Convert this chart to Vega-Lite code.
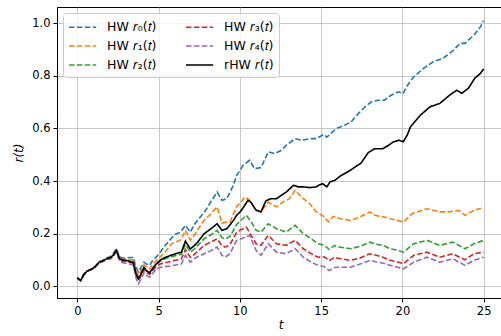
{
"$schema": "https://vega.github.io/schema/vega-lite/v6.json",
"width": 447, "height": 291,
"autosize": "none",
"padding": {"left": 57, "top": 7, "right": 0, "bottom": 38},
"background": "white",
"config": {"font": "DejaVu Sans", "view": {"stroke": "black", "strokeWidth": 1}},
"data": {"values": [
{"s":"r0","t":0,"r":0.032},{"s":"r0","t":0.2,"r":0.022},{"s":"r0","t":0.4,"r":0.045},{"s":"r0","t":0.6,"r":0.058},{"s":"r0","t":0.9,"r":0.067},{"s":"r0","t":1.1,"r":0.076},{"s":"r0","t":1.35,"r":0.094},{"s":"r0","t":1.6,"r":0.1},{"s":"r0","t":1.8,"r":0.108},{"s":"r0","t":2.05,"r":0.114},{"s":"r0","t":2.2,"r":0.123},{"s":"r0","t":2.4,"r":0.144},{"s":"r0","t":2.6,"r":0.112},{"s":"r0","t":2.8,"r":0.108},{"s":"r0","t":3.0,"r":0.108},{"s":"r0","t":3.2,"r":0.11},{"s":"r0","t":3.45,"r":0.11},{"s":"r0","t":3.6,"r":0.075},{"s":"r0","t":3.75,"r":0.055},{"s":"r0","t":3.9,"r":0.07},{"s":"r0","t":4.1,"r":0.092},{"s":"r0","t":4.25,"r":0.085},{"s":"r0","t":4.45,"r":0.08},{"s":"r0","t":4.65,"r":0.1},{"s":"r0","t":4.85,"r":0.111},{"s":"r0","t":5.1,"r":0.13},{"s":"r0","t":5.4,"r":0.155},{"s":"r0","t":5.75,"r":0.18},{"s":"r0","t":5.95,"r":0.194},{"s":"r0","t":6.1,"r":0.2},{"s":"r0","t":6.35,"r":0.206},{"s":"r0","t":6.65,"r":0.232},{"s":"r0","t":6.95,"r":0.206},{"s":"r0","t":7.2,"r":0.235},{"s":"r0","t":7.4,"r":0.251},{"s":"r0","t":7.9,"r":0.289},{"s":"r0","t":8.2,"r":0.32},{"s":"r0","t":8.6,"r":0.358},{"s":"r0","t":8.9,"r":0.327},{"s":"r0","t":9.2,"r":0.333},{"s":"r0","t":9.6,"r":0.384},{"s":"r0","t":9.8,"r":0.422},{"s":"r0","t":9.95,"r":0.435},{"s":"r0","t":10.2,"r":0.46},{"s":"r0","t":10.6,"r":0.479},{"s":"r0","t":10.9,"r":0.447},{"s":"r0","t":11.3,"r":0.451},{"s":"r0","t":11.75,"r":0.511},{"s":"r0","t":12.15,"r":0.504},{"s":"r0","t":12.55,"r":0.517},{"s":"r0","t":12.85,"r":0.536},{"s":"r0","t":13.4,"r":0.561},{"s":"r0","t":13.8,"r":0.555},{"s":"r0","t":14.3,"r":0.561},{"s":"r0","t":14.7,"r":0.561},{"s":"r0","t":15.15,"r":0.577},{"s":"r0","t":15.35,"r":0.567},{"s":"r0","t":15.95,"r":0.6},{"s":"r0","t":16.45,"r":0.612},{"s":"r0","t":16.85,"r":0.625},{"s":"r0","t":17.3,"r":0.657},{"s":"r0","t":17.7,"r":0.682},{"s":"r0","t":18.1,"r":0.701},{"s":"r0","t":18.5,"r":0.707},{"s":"r0","t":18.9,"r":0.707},{"s":"r0","t":19.3,"r":0.726},{"s":"r0","t":19.75,"r":0.739},{"s":"r0","t":20.05,"r":0.732},{"s":"r0","t":20.25,"r":0.758},{"s":"r0","t":20.7,"r":0.796},{"s":"r0","t":21.3,"r":0.828},{"s":"r0","t":21.9,"r":0.853},{"s":"r0","t":22.5,"r":0.866},{"s":"r0","t":23.15,"r":0.897},{"s":"r0","t":23.55,"r":0.923},{"s":"r0","t":23.85,"r":0.923},{"s":"r0","t":24.4,"r":0.954},{"s":"r0","t":24.8,"r":0.986},{"s":"r0","t":25,"r":1.009},

{"s":"r1","t":0,"r":0.032},{"s":"r1","t":0.2,"r":0.022},{"s":"r1","t":0.4,"r":0.045},{"s":"r1","t":0.6,"r":0.058},{"s":"r1","t":0.9,"r":0.066},{"s":"r1","t":1.1,"r":0.075},{"s":"r1","t":1.35,"r":0.093},{"s":"r1","t":1.6,"r":0.099},{"s":"r1","t":1.8,"r":0.106},{"s":"r1","t":2.05,"r":0.112},{"s":"r1","t":2.2,"r":0.12},{"s":"r1","t":2.4,"r":0.14},{"s":"r1","t":2.6,"r":0.108},{"s":"r1","t":2.8,"r":0.104},{"s":"r1","t":3.0,"r":0.103},{"s":"r1","t":3.2,"r":0.102},{"s":"r1","t":3.45,"r":0.1},{"s":"r1","t":3.6,"r":0.063},{"s":"r1","t":3.75,"r":0.042},{"s":"r1","t":3.9,"r":0.058},{"s":"r1","t":4.1,"r":0.082},{"s":"r1","t":4.25,"r":0.073},{"s":"r1","t":4.45,"r":0.066},{"s":"r1","t":4.65,"r":0.085},{"s":"r1","t":4.85,"r":0.098},{"s":"r1","t":5.1,"r":0.112},{"s":"r1","t":5.4,"r":0.13},{"s":"r1","t":5.75,"r":0.16},{"s":"r1","t":6.1,"r":0.17},{"s":"r1","t":6.4,"r":0.178},{"s":"r1","t":6.65,"r":0.213},{"s":"r1","t":6.95,"r":0.175},{"s":"r1","t":7.2,"r":0.195},{"s":"r1","t":7.4,"r":0.215},{"s":"r1","t":7.8,"r":0.251},{"s":"r1","t":8.2,"r":0.275},{"s":"r1","t":8.6,"r":0.302},{"s":"r1","t":8.9,"r":0.24},{"s":"r1","t":9.2,"r":0.245},{"s":"r1","t":9.4,"r":0.245},{"s":"r1","t":9.8,"r":0.304},{"s":"r1","t":10.05,"r":0.318},{"s":"r1","t":10.3,"r":0.34},{"s":"r1","t":10.6,"r":0.327},{"s":"r1","t":10.9,"r":0.295},{"s":"r1","t":11.3,"r":0.283},{"s":"r1","t":11.75,"r":0.32},{"s":"r1","t":12.25,"r":0.302},{"s":"r1","t":12.65,"r":0.32},{"s":"r1","t":13.05,"r":0.333},{"s":"r1","t":13.4,"r":0.365},{"s":"r1","t":13.9,"r":0.333},{"s":"r1","t":14.3,"r":0.314},{"s":"r1","t":14.7,"r":0.283},{"s":"r1","t":15.15,"r":0.266},{"s":"r1","t":15.45,"r":0.245},{"s":"r1","t":15.75,"r":0.266},{"s":"r1","t":16.2,"r":0.257},{"s":"r1","t":16.8,"r":0.251},{"s":"r1","t":17.4,"r":0.264},{"s":"r1","t":18.0,"r":0.283},{"s":"r1","t":18.3,"r":0.27},{"s":"r1","t":18.85,"r":0.264},{"s":"r1","t":19.25,"r":0.257},{"s":"r1","t":19.65,"r":0.251},{"s":"r1","t":20.07,"r":0.245},{"s":"r1","t":20.6,"r":0.276},{"s":"r1","t":21.5,"r":0.295},{"s":"r1","t":22.3,"r":0.283},{"s":"r1","t":22.9,"r":0.283},{"s":"r1","t":23.45,"r":0.289},{"s":"r1","t":23.85,"r":0.27},{"s":"r1","t":24.4,"r":0.289},{"s":"r1","t":25,"r":0.299},

{"s":"r2","t":0,"r":0.032},{"s":"r2","t":0.2,"r":0.022},{"s":"r2","t":0.4,"r":0.045},{"s":"r2","t":0.6,"r":0.058},{"s":"r2","t":0.9,"r":0.066},{"s":"r2","t":1.1,"r":0.075},{"s":"r2","t":1.35,"r":0.092},{"s":"r2","t":1.6,"r":0.098},{"s":"r2","t":1.8,"r":0.105},{"s":"r2","t":2.05,"r":0.11},{"s":"r2","t":2.2,"r":0.118},{"s":"r2","t":2.4,"r":0.137},{"s":"r2","t":2.6,"r":0.104},{"s":"r2","t":2.8,"r":0.099},{"s":"r2","t":3.0,"r":0.098},{"s":"r2","t":3.2,"r":0.096},{"s":"r2","t":3.45,"r":0.093},{"s":"r2","t":3.6,"r":0.05},{"s":"r2","t":3.75,"r":0.028},{"s":"r2","t":3.9,"r":0.043},{"s":"r2","t":4.1,"r":0.07},{"s":"r2","t":4.25,"r":0.058},{"s":"r2","t":4.45,"r":0.05},{"s":"r2","t":4.65,"r":0.067},{"s":"r2","t":4.85,"r":0.082},{"s":"r2","t":5.1,"r":0.095},{"s":"r2","t":5.4,"r":0.105},{"s":"r2","t":5.75,"r":0.112},{"s":"r2","t":6.1,"r":0.118},{"s":"r2","t":6.4,"r":0.122},{"s":"r2","t":6.65,"r":0.16},{"s":"r2","t":6.95,"r":0.13},{"s":"r2","t":7.2,"r":0.142},{"s":"r2","t":7.4,"r":0.155},{"s":"r2","t":7.8,"r":0.181},{"s":"r2","t":8.2,"r":0.195},{"s":"r2","t":8.6,"r":0.213},{"s":"r2","t":8.9,"r":0.185},{"s":"r2","t":9.1,"r":0.18},{"s":"r2","t":9.4,"r":0.19},{"s":"r2","t":9.8,"r":0.235},{"s":"r2","t":10.05,"r":0.25},{"s":"r2","t":10.4,"r":0.27},{"s":"r2","t":10.7,"r":0.245},{"s":"r2","t":11.0,"r":0.213},{"s":"r2","t":11.3,"r":0.206},{"s":"r2","t":11.75,"r":0.238},{"s":"r2","t":12.25,"r":0.219},{"s":"r2","t":12.85,"r":0.206},{"s":"r2","t":13.4,"r":0.232},{"s":"r2","t":13.9,"r":0.2},{"s":"r2","t":14.4,"r":0.181},{"s":"r2","t":14.8,"r":0.162},{"s":"r2","t":15.2,"r":0.156},{"s":"r2","t":15.5,"r":0.14},{"s":"r2","t":15.8,"r":0.155},{"s":"r2","t":16.2,"r":0.149},{"s":"r2","t":16.8,"r":0.143},{"s":"r2","t":17.4,"r":0.152},{"s":"r2","t":18.0,"r":0.168},{"s":"r2","t":18.4,"r":0.16},{"s":"r2","t":18.85,"r":0.155},{"s":"r2","t":19.25,"r":0.143},{"s":"r2","t":19.65,"r":0.138},{"s":"r2","t":20.07,"r":0.13},{"s":"r2","t":20.7,"r":0.162},{"s":"r2","t":21.5,"r":0.175},{"s":"r2","t":22.3,"r":0.156},{"s":"r2","t":23.1,"r":0.168},{"s":"r2","t":23.85,"r":0.143},{"s":"r2","t":24.4,"r":0.162},{"s":"r2","t":25,"r":0.175},

{"s":"r3","t":0,"r":0.032},{"s":"r3","t":0.2,"r":0.022},{"s":"r3","t":0.4,"r":0.045},{"s":"r3","t":0.6,"r":0.058},{"s":"r3","t":0.9,"r":0.066},{"s":"r3","t":1.1,"r":0.074},{"s":"r3","t":1.35,"r":0.091},{"s":"r3","t":1.6,"r":0.097},{"s":"r3","t":1.8,"r":0.103},{"s":"r3","t":2.05,"r":0.108},{"s":"r3","t":2.2,"r":0.115},{"s":"r3","t":2.4,"r":0.134},{"s":"r3","t":2.6,"r":0.1},{"s":"r3","t":2.8,"r":0.095},{"s":"r3","t":3.0,"r":0.094},{"s":"r3","t":3.2,"r":0.092},{"s":"r3","t":3.45,"r":0.088},{"s":"r3","t":3.6,"r":0.045},{"s":"r3","t":3.75,"r":0.022},{"s":"r3","t":3.9,"r":0.037},{"s":"r3","t":4.1,"r":0.063},{"s":"r3","t":4.25,"r":0.052},{"s":"r3","t":4.45,"r":0.045},{"s":"r3","t":4.65,"r":0.06},{"s":"r3","t":4.85,"r":0.075},{"s":"r3","t":5.1,"r":0.085},{"s":"r3","t":5.4,"r":0.09},{"s":"r3","t":5.75,"r":0.095},{"s":"r3","t":6.1,"r":0.1},{"s":"r3","t":6.4,"r":0.104},{"s":"r3","t":6.65,"r":0.14},{"s":"r3","t":6.95,"r":0.11},{"s":"r3","t":7.2,"r":0.122},{"s":"r3","t":7.4,"r":0.133},{"s":"r3","t":7.8,"r":0.156},{"s":"r3","t":8.2,"r":0.168},{"s":"r3","t":8.6,"r":0.181},{"s":"r3","t":8.9,"r":0.155},{"s":"r3","t":9.1,"r":0.149},{"s":"r3","t":9.4,"r":0.16},{"s":"r3","t":9.8,"r":0.205},{"s":"r3","t":10.05,"r":0.215},{"s":"r3","t":10.4,"r":0.225},{"s":"r3","t":10.7,"r":0.194},{"s":"r3","t":11.0,"r":0.162},{"s":"r3","t":11.3,"r":0.156},{"s":"r3","t":11.75,"r":0.194},{"s":"r3","t":12.25,"r":0.162},{"s":"r3","t":12.85,"r":0.156},{"s":"r3","t":13.4,"r":0.175},{"s":"r3","t":13.9,"r":0.143},{"s":"r3","t":14.4,"r":0.124},{"s":"r3","t":14.8,"r":0.111},{"s":"r3","t":15.2,"r":0.112},{"s":"r3","t":15.5,"r":0.098},{"s":"r3","t":15.8,"r":0.11},{"s":"r3","t":16.2,"r":0.105},{"s":"r3","t":16.8,"r":0.099},{"s":"r3","t":17.4,"r":0.108},{"s":"r3","t":18.0,"r":0.124},{"s":"r3","t":18.4,"r":0.118},{"s":"r3","t":18.85,"r":0.11},{"s":"r3","t":19.25,"r":0.099},{"s":"r3","t":19.65,"r":0.094},{"s":"r3","t":20.07,"r":0.086},{"s":"r3","t":20.7,"r":0.118},{"s":"r3","t":21.5,"r":0.13},{"s":"r3","t":22.3,"r":0.111},{"s":"r3","t":23.1,"r":0.124},{"s":"r3","t":23.85,"r":0.101},{"s":"r3","t":24.4,"r":0.124},{"s":"r3","t":25,"r":0.13},

{"s":"r4","t":0,"r":0.032},{"s":"r4","t":0.2,"r":0.022},{"s":"r4","t":0.4,"r":0.045},{"s":"r4","t":0.6,"r":0.058},{"s":"r4","t":0.9,"r":0.065},{"s":"r4","t":1.1,"r":0.073},{"s":"r4","t":1.35,"r":0.089},{"s":"r4","t":1.6,"r":0.095},{"s":"r4","t":1.8,"r":0.1},{"s":"r4","t":2.05,"r":0.104},{"s":"r4","t":2.2,"r":0.111},{"s":"r4","t":2.4,"r":0.13},{"s":"r4","t":2.6,"r":0.096},{"s":"r4","t":2.8,"r":0.09},{"s":"r4","t":3.0,"r":0.088},{"s":"r4","t":3.2,"r":0.085},{"s":"r4","t":3.45,"r":0.08},{"s":"r4","t":3.6,"r":0.035},{"s":"r4","t":3.75,"r":0.01},{"s":"r4","t":3.9,"r":0.025},{"s":"r4","t":4.1,"r":0.052},{"s":"r4","t":4.25,"r":0.042},{"s":"r4","t":4.45,"r":0.035},{"s":"r4","t":4.65,"r":0.05},{"s":"r4","t":4.85,"r":0.065},{"s":"r4","t":5.1,"r":0.072},{"s":"r4","t":5.4,"r":0.075},{"s":"r4","t":5.75,"r":0.078},{"s":"r4","t":6.1,"r":0.082},{"s":"r4","t":6.4,"r":0.085},{"s":"r4","t":6.65,"r":0.118},{"s":"r4","t":6.95,"r":0.092},{"s":"r4","t":7.2,"r":0.105},{"s":"r4","t":7.4,"r":0.113},{"s":"r4","t":7.8,"r":0.124},{"s":"r4","t":8.2,"r":0.135},{"s":"r4","t":8.6,"r":0.149},{"s":"r4","t":8.9,"r":0.118},{"s":"r4","t":9.1,"r":0.111},{"s":"r4","t":9.4,"r":0.125},{"s":"r4","t":9.8,"r":0.175},{"s":"r4","t":10.05,"r":0.18},{"s":"r4","t":10.6,"r":0.194},{"s":"r4","t":10.8,"r":0.165},{"s":"r4","t":11.0,"r":0.137},{"s":"r4","t":11.3,"r":0.118},{"s":"r4","t":11.75,"r":0.162},{"s":"r4","t":12.25,"r":0.13},{"s":"r4","t":12.85,"r":0.124},{"s":"r4","t":13.4,"r":0.143},{"s":"r4","t":13.9,"r":0.111},{"s":"r4","t":14.4,"r":0.092},{"s":"r4","t":14.8,"r":0.08},{"s":"r4","t":15.2,"r":0.075},{"s":"r4","t":15.5,"r":0.06},{"s":"r4","t":15.8,"r":0.072},{"s":"r4","t":16.2,"r":0.073},{"s":"r4","t":16.8,"r":0.073},{"s":"r4","t":17.4,"r":0.085},{"s":"r4","t":18.0,"r":0.099},{"s":"r4","t":18.4,"r":0.093},{"s":"r4","t":18.85,"r":0.088},{"s":"r4","t":19.25,"r":0.08},{"s":"r4","t":19.65,"r":0.074},{"s":"r4","t":20.07,"r":0.067},{"s":"r4","t":20.7,"r":0.092},{"s":"r4","t":21.5,"r":0.111},{"s":"r4","t":22.3,"r":0.092},{"s":"r4","t":23.1,"r":0.105},{"s":"r4","t":23.85,"r":0.08},{"s":"r4","t":24.4,"r":0.099},{"s":"r4","t":25,"r":0.111},

{"s":"rHW","t":0,"r":0.032},{"s":"rHW","t":0.2,"r":0.022},{"s":"rHW","t":0.4,"r":0.045},{"s":"rHW","t":0.6,"r":0.058},{"s":"rHW","t":0.9,"r":0.066},{"s":"rHW","t":1.1,"r":0.075},{"s":"rHW","t":1.35,"r":0.092},{"s":"rHW","t":1.6,"r":0.098},{"s":"rHW","t":1.8,"r":0.105},{"s":"rHW","t":2.05,"r":0.11},{"s":"rHW","t":2.2,"r":0.118},{"s":"rHW","t":2.4,"r":0.137},{"s":"rHW","t":2.6,"r":0.105},{"s":"rHW","t":2.8,"r":0.1},{"s":"rHW","t":3.0,"r":0.099},{"s":"rHW","t":3.2,"r":0.095},{"s":"rHW","t":3.45,"r":0.09},{"s":"rHW","t":3.6,"r":0.05},{"s":"rHW","t":3.75,"r":0.03},{"s":"rHW","t":3.9,"r":0.045},{"s":"rHW","t":4.1,"r":0.072},{"s":"rHW","t":4.25,"r":0.06},{"s":"rHW","t":4.45,"r":0.052},{"s":"rHW","t":4.65,"r":0.07},{"s":"rHW","t":4.85,"r":0.085},{"s":"rHW","t":5.1,"r":0.1},{"s":"rHW","t":5.4,"r":0.11},{"s":"rHW","t":5.75,"r":0.118},{"s":"rHW","t":6.1,"r":0.125},{"s":"rHW","t":6.4,"r":0.13},{"s":"rHW","t":6.65,"r":0.172},{"s":"rHW","t":6.95,"r":0.142},{"s":"rHW","t":7.2,"r":0.155},{"s":"rHW","t":7.4,"r":0.168},{"s":"rHW","t":7.8,"r":0.2},{"s":"rHW","t":8.2,"r":0.218},{"s":"rHW","t":8.6,"r":0.238},{"s":"rHW","t":8.9,"r":0.213},{"s":"rHW","t":9.2,"r":0.219},{"s":"rHW","t":9.6,"r":0.25},{"s":"rHW","t":9.8,"r":0.27},{"s":"rHW","t":10.05,"r":0.285},{"s":"rHW","t":10.3,"r":0.308},{"s":"rHW","t":10.5,"r":0.327},{"s":"rHW","t":10.7,"r":0.318},{"s":"rHW","t":11.0,"r":0.289},{"s":"rHW","t":11.3,"r":0.283},{"s":"rHW","t":11.6,"r":0.325},{"s":"rHW","t":11.9,"r":0.333},{"s":"rHW","t":12.25,"r":0.333},{"s":"rHW","t":12.55,"r":0.346},{"s":"rHW","t":12.85,"r":0.358},{"s":"rHW","t":13.3,"r":0.384},{"s":"rHW","t":13.6,"r":0.378},{"s":"rHW","t":13.9,"r":0.378},{"s":"rHW","t":14.3,"r":0.375},{"s":"rHW","t":14.7,"r":0.378},{"s":"rHW","t":14.85,"r":0.384},{"s":"rHW","t":15.1,"r":0.39},{"s":"rHW","t":15.35,"r":0.378},{"s":"rHW","t":15.55,"r":0.397},{"s":"rHW","t":15.85,"r":0.403},{"s":"rHW","t":16.2,"r":0.42},{"s":"rHW","t":16.8,"r":0.441},{"s":"rHW","t":17.1,"r":0.454},{"s":"rHW","t":17.45,"r":0.468},{"s":"rHW","t":17.9,"r":0.508},{"s":"rHW","t":18.3,"r":0.523},{"s":"rHW","t":18.8,"r":0.523},{"s":"rHW","t":19.15,"r":0.536},{"s":"rHW","t":19.45,"r":0.549},{"s":"rHW","t":19.8,"r":0.555},{"s":"rHW","t":20.05,"r":0.549},{"s":"rHW","t":20.3,"r":0.575},{"s":"rHW","t":20.5,"r":0.606},{"s":"rHW","t":21.1,"r":0.65},{"s":"rHW","t":21.7,"r":0.682},{"s":"rHW","t":22.3,"r":0.695},{"s":"rHW","t":22.9,"r":0.726},{"s":"rHW","t":23.35,"r":0.745},{"s":"rHW","t":23.65,"r":0.733},{"s":"rHW","t":24.05,"r":0.752},{"s":"rHW","t":24.45,"r":0.79},{"s":"rHW","t":24.8,"r":0.809},{"s":"rHW","t":25,"r":0.826}
]},
"mark": {"type": "line", "strokeWidth": 1.6, "clip": true},
"encoding": {
  "x": {"field": "t", "type": "quantitative",
        "scale": {"domain": [-1.25, 26.25], "nice": false, "zero": false},
        "axis": {"values": [0,5,10,15,20,25], "title": "t", "titleFontStyle": "italic", "titleFontWeight": "normal", "titleFontSize": 12, "titleColor": "black", "titlePadding": 3,
                 "labelFontSize": 11.5, "labelColor": "black", "labelPadding": 3, "tickColor": "black", "tickSize": 4, "domainColor": "black",
                 "grid": true, "gridColor": "#b0b0b0", "gridOpacity": 0.7, "gridWidth": 1}},
  "y": {"field": "r", "type": "quantitative",
        "scale": {"domain": [-0.044, 1.061], "nice": false, "zero": false},
        "axis": {"values": [0,0.2,0.4,0.6,0.8,1.0], "format": ".1f", "title": "r(t)", "titleFontStyle": "italic", "titleFontWeight": "normal", "titleFontSize": 12, "titleColor": "black", "titlePadding": 6,
                 "labelFontSize": 11.5, "labelColor": "black", "labelPadding": 3, "tickColor": "black", "tickSize": 4, "domainColor": "black",
                 "grid": true, "gridColor": "#b0b0b0", "gridOpacity": 0.7, "gridWidth": 1}},
  "color": {"field": "s", "type": "nominal",
        "scale": {"domain": ["r0","r1","r2","r3","r4","rHW"], "range": ["#1f77b4","#ff7f0e","#2ca02c","#d62728","#9467bd","#000000"]},
        "legend": {"title": null, "orient": "top-left", "offset": 6, "columns": 2, "columnPadding": 25, "rowPadding": 3,
                   "symbolType": "M-1,0H2.4", "symbolSize": 256, "symbolStrokeWidth": 1.6, "labelFontSize": 12.5, "labelColor": "black", "labelOffset": 21,
                   "fillColor": "rgba(255,255,255,0.8)", "strokeColor": "#cccccc", "cornerRadius": 3, "padding": 5,
                   "labelExpr": "{'r0':'HW 𝑟₀(𝑡)','r1':'HW 𝑟₁(𝑡)','r2':'HW 𝑟₂(𝑡)','r3':'HW 𝑟₃(𝑡)','r4':'HW 𝑟₄(𝑡)','rHW':'rHW 𝑟(𝑡)'}[datum.label]"}},
  "strokeDash": {"field": "s", "type": "nominal",
        "scale": {"domain": ["r0","r1","r2","r3","r4","rHW"], "range": [[5.5,2.4],[5.5,2.4],[5.5,2.4],[5.5,2.4],[5.5,2.4],[1,0]]},
        "legend": null},
  "order": {"field": "t", "type": "quantitative"}
}
}
